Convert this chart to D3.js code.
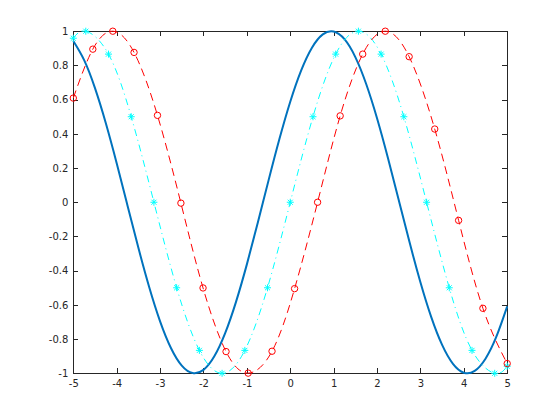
<!DOCTYPE html>
<html><head><meta charset="utf-8">
<script src="https://cdn.jsdelivr.net/npm/d3@7"></script>
<style>body{margin:0;background:#fff}svg{display:block}</style></head>
<body>
<script>
// ---- data ----
const xTicks = [-5,-4,-3,-2,-1,0,1,2,3,4,5];
const xTickLabels = ["-5","-4","-3","-2","-1","0","1","2","3","4","5"];
const yTicks = [-1,-0.8,-0.6,-0.4,-0.2,0,0.2,0.4,0.6,0.8,1];
const yTickLabels = ["-1","-0.8","-0.6","-0.4","-0.2","0","0.2","0.4","0.6","0.8","1"];

// blue solid curve
const blueX = [-5,-4.75,-4.5,-4.25,-4,-3.75,-3.5,-3.25,-3,-2.75,-2.5,-2.25,-2,-1.75,-1.5,-1.25,-1,-0.75,-0.5,-0.25,
               0,0.25,0.5,0.75,1,1.25,1.5,1.75,2,2.25,2.5,2.75,3,3.25,3.5,3.75,4,4.25,4.5,4.75,5];
const blueY = [0.9425,0.8305,0.6669,0.4618,0.2281,-0.0199,-0.2666,-0.4969,-0.6961,-0.8520,-0.9551,-0.9987,-0.9802,-0.9008,-0.7654,-0.5824,-0.3632,-0.1214,
               0.1279,0.3693,0.5878,0.7696,0.9037,0.9816,0.9982,0.9531,0.8486,0.6913,0.4911,0.2603,0.0133,-0.2345,-0.4677,-0.6719,-0.8342,-0.9447,-0.9964,-0.9862,-0.9148,-0.7863,-0.6091];

// cyan dash-dot with asterisks
const cyanX = [-5,-4.712,-4.189,-3.665,-3.142,-2.618,-2.094,-1.571,-1.047,-0.524,0,0.524,1.047,1.571,2.094,2.618,3.142,3.665,4.189,4.712,5];
const cyanY = [0.959,1,0.866,0.5,0,-0.5,-0.866,-1,-0.866,-0.5,0,0.5,0.866,1,0.866,0.5,0,-0.5,-0.866,-1,-0.959];

// red dashed with circles
const redX = [-5,-4.55,-4.09,-3.60,-3.06,-2.52,-2.01,-1.48,-0.97,-0.42,0.10,0.63,1.15,1.67,2.19,2.74,3.33,3.88,4.44,5];
const redY = [0.609,0.895,1.0,0.876,0.508,-0.005,-0.501,-0.873,-0.999,-0.871,-0.505,0.0,0.505,0.866,1.0,0.851,0.428,-0.106,-0.620,-0.943];

// ---- drawing ----
const W = 560, H = 420;
const L = 73.3, R = 507.2, T = 31.2, B = 373.3;
const axisColor = "#262626";

const svg = d3.select("body").append("svg").attr("width", W).attr("height", H);
const x = d3.scaleLinear().domain([-5,5]).range([L,R]);
const y = d3.scaleLinear().domain([-1,1]).range([B,T]);

const font = "DejaVu Sans";

function styleAxis(g) {
  g.select(".domain").remove();
  g.selectAll(".tick line").attr("stroke", axisColor).attr("stroke-width", 1);
  g.selectAll(".tick text").attr("fill", axisColor).style("font-family", font).style("font-size", "10px");
  g.attr("shape-rendering", "crispEdges");
}

const xb = svg.append("g").attr("transform", `translate(0,${B})`)
  .call(d3.axisBottom(x).tickValues(xTicks).tickFormat((d,i)=>xTickLabels[i]).tickSizeInner(-5).tickSizeOuter(0).tickPadding(7));
styleAxis(xb);
const xt = svg.append("g").attr("transform", `translate(0,${T})`)
  .call(d3.axisTop(x).tickValues(xTicks).tickFormat("").tickSizeInner(-5).tickSizeOuter(0));
styleAxis(xt);
const yl = svg.append("g").attr("transform", `translate(${L},0)`)
  .call(d3.axisLeft(y).tickValues(yTicks).tickFormat((d,i)=>yTickLabels[i]).tickSizeInner(-5).tickSizeOuter(0).tickPadding(5));
styleAxis(yl);
const yr = svg.append("g").attr("transform", `translate(${R},0)`)
  .call(d3.axisRight(y).tickValues(yTicks).tickFormat("").tickSizeInner(-5).tickSizeOuter(0));
styleAxis(yr);

svg.append("rect").attr("x", L).attr("y", T).attr("width", R-L).attr("height", B-T)
  .attr("fill", "none").attr("stroke", axisColor).attr("stroke-width", 1).attr("shape-rendering", "crispEdges");

const smooth = d3.line().x(d=>x(d[0])).y(d=>y(d[1])).curve(d3.curveNatural);

// blue
const blueData = blueX.map((v,i)=>[v, blueY[i]]);
svg.append("path").datum(blueData)
  .attr("d", smooth)
  .attr("fill","none").attr("stroke","#0072BD").attr("stroke-width",2);

// cyan
const cyanData = cyanX.map((v,i)=>[v, cyanY[i]]);
svg.append("path").datum(cyanData)
  .attr("d", smooth)
  .attr("fill","none").attr("stroke","#00FFFF").attr("stroke-width",1)
  .attr("stroke-dasharray","7,4,1,4");
const ast = svg.append("g").attr("stroke","#00FFFF").attr("stroke-width",1).attr("fill","none");
cyanData.forEach(d=>{
  const cx = x(d[0]), cy = y(d[1]), r = 3.5, q = r*0.72;
  ast.append("path").attr("d",
    `M${cx-r},${cy}L${cx+r},${cy}M${cx},${cy-r}L${cx},${cy+r}` +
    `M${cx-q},${cy-q}L${cx+q},${cy+q}M${cx-q},${cy+q}L${cx+q},${cy-q}`);
});

// red
const redData = redX.map((v,i)=>[v, redY[i]]);
svg.append("path").datum(redData)
  .attr("d", smooth)
  .attr("fill","none").attr("stroke","#FF0000").attr("stroke-width",1)
  .attr("stroke-dasharray","8,5");
svg.append("g").selectAll("circle").data(redData).join("circle")
  .attr("cx", d=>x(d[0])).attr("cy", d=>y(d[1])).attr("r", 3.2)
  .attr("fill","none").attr("stroke","#FF0000").attr("stroke-width",1);
</script>
</body></html>
